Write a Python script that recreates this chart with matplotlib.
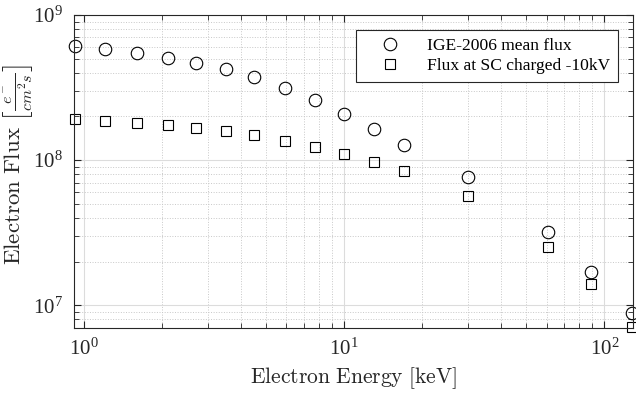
import numpy as np
import matplotlib.pyplot as plt
from matplotlib.ticker import LogLocator, NullFormatter

# Data
energy_kev = [0.92, 1.2, 1.6, 2.1, 2.7, 3.5, 4.5, 5.9, 7.7, 10, 13, 17, 30, 61, 89, 128]
ige_mean_flux = [6.1e8, 5.83e8, 5.44e8, 5.08e8, 4.69e8, 4.22e8, 3.72e8, 3.12e8,
                 2.59e8, 2.08e8, 1.64e8, 1.28e8, 7.6e7, 3.2e7, 1.70e7, 8.8e6]
charged_flux = [1.91e8, 1.87e8, 1.81e8, 1.74e8, 1.66e8, 1.58e8, 1.48e8, 1.36e8,
                1.24e8, 1.10e8, 9.7e7, 8.4e7, 5.65e7, 2.52e7, 1.41e7, 7.05e6]
series_labels = ['IGE-2006 mean flux', 'Flux at SC charged -10kV']

plt.rcParams['mathtext.fontset'] = 'cm'
plt.rcParams['font.family'] = 'serif'
plt.rcParams['font.serif'] = ['Liberation Serif', 'DejaVu Serif']

fig = plt.figure(figsize=(6.36, 3.98), dpi=100)
ax = fig.add_axes([0.1164, 0.1766, 0.879, 0.7857])

ax.plot(energy_kev, ige_mean_flux, linestyle='none', marker='o', ms=9,
        mfc='none', mec='black', mew=0.8, label=series_labels[0], clip_on=False)
ax.plot(energy_kev, charged_flux, linestyle='none', marker='s', ms=7,
        mfc='none', mec='black', mew=0.8, label=series_labels[1], clip_on=False)

ax.set_xscale('log')
ax.set_yscale('log')
ax.set_xlim(0.915, 129)
ax.set_ylim(7.0e6, 1e9)

ax.xaxis.set_minor_locator(LogLocator(base=10, subs=np.arange(2, 10)))
ax.yaxis.set_minor_locator(LogLocator(base=10, subs=np.arange(2, 10)))
ax.xaxis.set_minor_formatter(NullFormatter())
ax.yaxis.set_minor_formatter(NullFormatter())

ax.grid(True, which='major', color='#dcdcdc', linestyle='-', linewidth=0.8)
ax.grid(True, which='minor', color='#c8c8c8', linestyle=':', linewidth=0.7)
ax.set_axisbelow(True)

for s in ax.spines.values():
    s.set_color('#262626')
    s.set_linewidth(0.8)
ax.tick_params(which='both', direction='in', top=True, right=True, colors='#262626')
ax.tick_params(which='major', length=5, labelsize=15, pad=8)
ax.tick_params(which='minor', length=3.5)

ax.set_xlabel(r'$\mathrm{Electron\ Energy\ [keV]}$', fontsize=15.5, color='#262626', labelpad=4)
ax.set_ylabel(r'$\mathrm{Electron\ Flux}\ \left[\frac{e^-}{cm^2s}\right]$', fontsize=16.5,
              color='#262626')
ax.yaxis.set_label_coords(-0.07, 0.52)

leg = ax.legend(loc='upper right', fontsize=12.6, frameon=True, fancybox=False,
                edgecolor='#262626', framealpha=1, borderaxespad=0.86,
                handlelength=3.0, handletextpad=0.6, borderpad=0.45, labelspacing=0.2)
leg.get_frame().set_linewidth(0.8)

fig.savefig('out.png', dpi=100)
